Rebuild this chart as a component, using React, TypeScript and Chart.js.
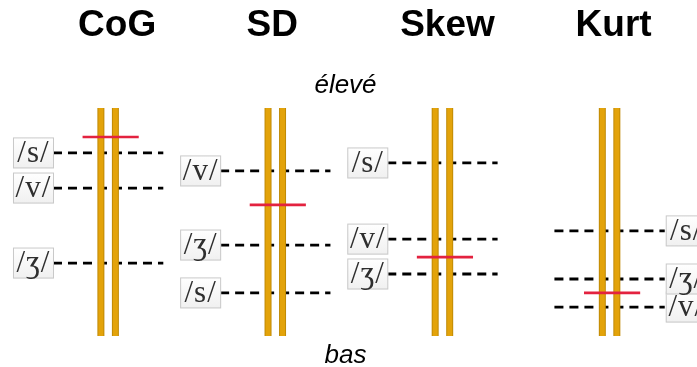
import React, { useEffect, useRef } from 'react';
import { Chart, registerables } from 'chart.js';

Chart.register(...registerables);

// ---- data ----
const panels = ['CoG', 'SD', 'Skew', 'Kurt'];
const phonemes = ['/s/', '/v/', '/ʒ/'];
const sLevels = [80.3, 18.9, 75.9, 46.1];
const vLevels = [64.9, 72.4, 42.5, 12.7];
const zhLevels = [32.0, 39.9, 27.2, 25.0];
const markerLevels = [87.3, 57.5, 34.6, 18.9];
const labelSides = ['left', 'left', 'left', 'right'];
const scaleBounds = [0, 100];
const topLabel = 'élevé';
const bottomLabel = 'bas';

// ---- styling constants ----
const W = 697;
const H = 367;
const BAR_OFF = 0.0434;
const DASH_HALF = 0.33;
const MARK_HALF = 0.168;
const titleShift = [9, -3, 5, 4];

export default function App() {
  const ref = useRef<HTMLCanvasElement | null>(null);

  useEffect(() => {
    if (!ref.current) return;
    const levelSets = [sLevels, vLevels, zhLevels];
    const base = {
      showLine: true,
      pointRadius: 0,
      pointHoverRadius: 0,
      fill: false,
      tension: 0,
      borderCapStyle: 'butt',
      clip: false,
    };
    const datasets: any[] = [];
    panels.forEach((_, i) => {
      [-BAR_OFF, BAR_OFF].forEach((off) => {
        datasets.push({
          ...base,
          data: [
            { x: i + off, y: scaleBounds[0] },
            { x: i + off, y: scaleBounds[1] },
          ],
          borderColor: '#C08A06',
          borderWidth: 7,
          order: 3,
        });
        datasets.push({
          ...base,
          data: [
            { x: i + off, y: scaleBounds[0] },
            { x: i + off, y: scaleBounds[1] },
          ],
          borderColor: '#E3A30A',
          borderWidth: 5,
          order: 2,
        });
      });
      levelSets.forEach((lv) => {
        datasets.push({
          ...base,
          data: [
            { x: i - DASH_HALF, y: lv[i] },
            { x: i + DASH_HALF, y: lv[i] },
          ],
          borderColor: '#000000',
          borderWidth: 2.8,
          borderDash: [9, 6],
          order: 4,
        });
      });
      datasets.push({
        ...base,
        data: [
          { x: i - MARK_HALF + 0.015, y: markerLevels[i] },
          { x: i + MARK_HALF + 0.015, y: markerLevels[i] },
        ],
        borderColor: '#E3223F',
        borderWidth: 2.6,
        order: 1,
      });
    });

    const textPlugin = {
      id: 'textPlugin',
      afterDatasetsDraw(chart: any) {
        const ctx = chart.ctx as CanvasRenderingContext2D;
        const xs = chart.scales.x;
        const ys = chart.scales.y;
        ctx.save();
        // titles
        ctx.fillStyle = '#000';
        ctx.font = 'bold 37px "Liberation Sans", Arial, sans-serif';
        ctx.textAlign = 'center';
        ctx.textBaseline = 'alphabetic';
        panels.forEach((p, i) => {
          ctx.fillText(p, xs.getPixelForValue(i) + titleShift[i], 36);
        });
        // top / bottom labels
        ctx.font = 'italic 26px "Liberation Sans", Arial, sans-serif';
        const mid = (chart.chartArea.left + chart.chartArea.right) / 2 - 3;
        ctx.fillText(topLabel, mid, ys.getPixelForValue(scaleBounds[1]) - 15);
        ctx.fillText(bottomLabel, mid, ys.getPixelForValue(scaleBounds[0]) + 27);
        // phoneme label boxes
        const levelSets = [sLevels, vLevels, zhLevels];
        const bw = 41;
        const bh = 31;
        panels.forEach((_, i) => {
          levelSets.forEach((lv, k) => {
            const yp = ys.getPixelForValue(lv[i]);
            let left: number;
            if (labelSides[i] === 'left') {
              left = xs.getPixelForValue(i - DASH_HALF) + 1 - bw;
            } else {
              left = xs.getPixelForValue(i + DASH_HALF) + 1;
            }
            const top = yp - bh / 2;
            const g = ctx.createLinearGradient(0, top, 0, top + bh);
            g.addColorStop(0, '#ffffff');
            g.addColorStop(1, '#f0f0f0');
            ctx.fillStyle = g;
            ctx.fillRect(left, top, bw, bh);
            ctx.strokeStyle = '#c9c9c9';
            ctx.lineWidth = 1;
            ctx.strokeRect(left + 0.5, top + 0.5, bw - 1, bh - 1);
            ctx.fillStyle = '#2e2e2e';
            ctx.font = '31px "Liberation Serif", "Times New Roman", serif';
            (ctx as any).letterSpacing = '1px';
            ctx.textAlign = 'center';
            ctx.textBaseline = 'middle';
            ctx.fillText(phonemes[k], left + bw / 2, yp + 1);
            (ctx as any).letterSpacing = '0px';
          });
        });
        ctx.restore();
      },
    };

    const chart = new Chart(ref.current, {
      type: 'scatter',
      data: { datasets },
      options: {
        animation: false,
        responsive: false,
        devicePixelRatio: 1,
        layout: { padding: { top: 108, bottom: 31, left: 0, right: 0 } },
        plugins: {
          legend: { display: false },
          tooltip: { enabled: false },
          title: { display: false },
        },
        events: [],
        scales: {
          x: { type: 'linear', min: -0.647, max: 3.523, display: false },
          y: { type: 'linear', min: scaleBounds[0], max: scaleBounds[1], display: false },
        },
      },
      plugins: [textPlugin],
    } as any);
    return () => chart.destroy();
  }, []);

  return (
    <div style={{ position: 'absolute', left: 0, top: 0, width: W, height: H, background: '#fff' }}>
      <canvas ref={ref} width={W} height={H} style={{ display: 'block', width: W, height: H }} />
    </div>
  );
}
